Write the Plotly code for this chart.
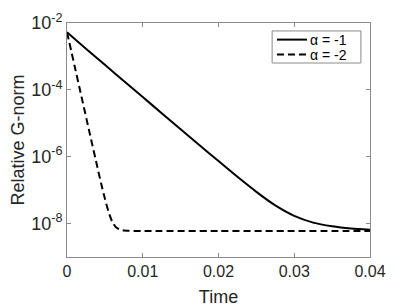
import plotly.graph_objects as go

# Data
time_a1 = [0, 0.0025, 0.005, 0.0075, 0.01, 0.0125, 0.015, 0.0175, 0.02,
           0.0225, 0.025, 0.0275, 0.03, 0.0325, 0.035, 0.0375, 0.04]
norm_a1 = [5.3e-3, 1.7e-3, 5.6e-4, 1.85e-4, 6.1e-5, 2.0e-5, 6.6e-6, 2.2e-6,
           7.4e-7, 2.5e-7, 8.9e-8, 3.5e-8, 1.7e-8, 1.07e-8, 8.3e-9, 7.1e-9, 6.5e-9]

time_a2 = [0, 0.001, 0.002, 0.003, 0.004, 0.0045, 0.005, 0.0055, 0.006,
           0.0065, 0.007, 0.0075, 0.008, 0.009, 0.01, 0.02, 0.03, 0.04]
norm_a2 = [5.3e-3, 5.2e-4, 5.1e-5, 5.0e-6, 5.0e-7, 1.6e-7, 5.6e-8, 2.2e-8,
           1.1e-8, 7.6e-9, 6.6e-9, 6.2e-9, 6.1e-9, 6.0e-9, 6.0e-9, 6.0e-9,
           6.0e-9, 6.0e-9]

names = ["α = -1", "α = -2"]
x_ticks = [0, 0.01, 0.02, 0.03, 0.04]
x_ticktext = ["0", "0.01", "0.02", "0.03", "0.04"]
y_ticks = [1e-8, 1e-6, 1e-4, 1e-2]
y_ticktext = ["10<sup>-8</sup>", "10<sup>-6</sup>", "10<sup>-4</sup>", "10<sup>-2</sup>"]

font_family = "Liberation Sans, Arial, Helvetica, sans-serif"
axis_gray = "#8a8a8a"
text_col = "#262626"
dash_style = "7px,4px"

fig = go.Figure()
fig.add_trace(go.Scatter(x=time_a1, y=norm_a1, mode="lines", name=names[0], showlegend=False,
                         line=dict(color="black", width=2, shape="spline", smoothing=0.6)))
fig.add_trace(go.Scatter(x=time_a2, y=norm_a2, mode="lines", name=names[1], showlegend=False,
                         line=dict(color="black", width=2, dash=dash_style,
                                   shape="spline", smoothing=0.6)))

axis_common = dict(showline=True, linecolor=axis_gray, linewidth=1, mirror="ticks",
                   ticks="inside", ticklen=4, tickcolor=axis_gray, showgrid=False,
                   zeroline=False, automargin=False)

fig.update_xaxes(range=[0, 0.04], tickvals=x_ticks, ticktext=x_ticktext,
                 tickfont=dict(family=font_family, size=16, color=text_col),
                 title=dict(text="Time", font=dict(family=font_family, size=18, color=text_col),
                            standoff=11),
                 **axis_common)
fig.update_yaxes(type="log", range=[-9, -2], tickvals=y_ticks, ticktext=y_ticktext,
                 tickfont=dict(family=font_family, size=18, color=text_col),
                 title=dict(text="Relative G-norm", font=dict(family=font_family, size=18, color=text_col),
                            standoff=4),
                 **axis_common)

# Manual legend box (MATLAB style, compact)
lx0, lx1, ly0, ly1 = 0.677, 0.970, 0.829, 0.966
fig.add_shape(type="rect", xref="paper", yref="paper", x0=lx0, x1=lx1, y0=ly0, y1=ly1,
              line=dict(color=axis_gray, width=1), fillcolor="white", layer="above")
row_y = [0.929, 0.865]
row_dash = ["solid", dash_style]
for name, ry, dsh in zip(names, row_y, row_dash):
    fig.add_shape(type="line", xref="paper", yref="paper", x0=0.693, x1=0.792, y0=ry, y1=ry,
                  line=dict(color="black", width=2, dash=dsh), layer="above")
    fig.add_annotation(xref="paper", yref="paper", x=0.795, y=ry, text=name, showarrow=False,
                       xanchor="left", yanchor="middle",
                       font=dict(family=font_family, size=14, color="black"))

# The page body has an 8px default margin, so the figure is sized/offset to compensate
fig.update_layout(
    width=401, height=299,
    margin=dict(l=59, r=39, t=15, b=50),
    plot_bgcolor="white", paper_bgcolor="white",
    showlegend=False,
)

fig.write_html("out.html")
